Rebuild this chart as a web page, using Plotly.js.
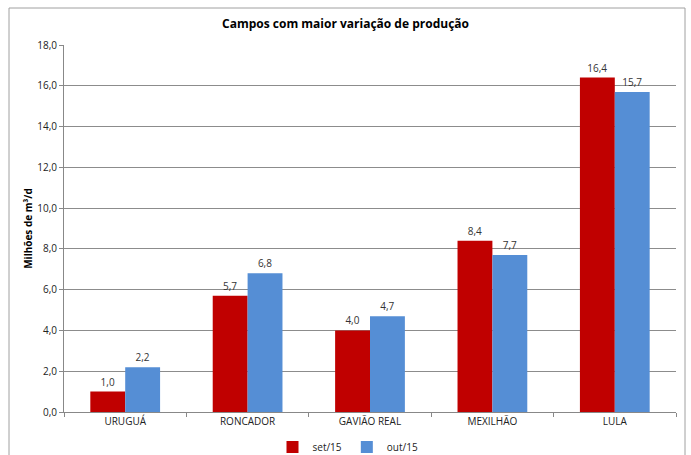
<!DOCTYPE html>
<html><head><meta charset="utf-8">
<script src="https://cdn.plot.ly/plotly-3.0.1.min.js"></script>
<style>html,body{margin:0;padding:0;background:#fff}#c{width:691px;height:455px}</style>
</head><body><div id="c"></div>
<script>
const categories = ["URUGUÁ", "RONCADOR", "GAVIÃO REAL", "MEXILHÃO", "LULA"];
const set15 = [1.0, 5.7, 4.0, 8.4, 16.4];
const out15 = [2.2, 6.8, 4.7, 7.7, 15.7];
const yTicks = [0, 2, 4, 6, 8, 10, 12, 14, 16, 18];

const FONT = '"Liberation Sans Narrow", "Open Sans", "Noto Sans", sans-serif';
const L = 64, R = 676, T = 45, B = 412, W = 691, H = 455;
const pw = R - L, ph = B - T;

function bar(name, vals, color) {
  return {
    type: 'bar', name: name, x: categories, y: vals,
    marker: {color: color},
    text: vals.map(v => v.toFixed(1).replace('.', ',')),
    textposition: 'outside', cliponaxis: false,
    textfont: {family: FONT, size: 10, color: '#333'},
    hoverinfo: 'none'
  };
}

const data = [bar('set/15', set15, '#C00000'), bar('out/15', out15, '#558ED5')];

const layout = {
  width: W, height: H,
  margin: {l: L, r: W - R, t: T, b: H - B, pad: 0},
  paper_bgcolor: '#fff', plot_bgcolor: '#fff',
  separators: ',.',
  barmode: 'group', bargap: 0.43, bargroupgap: 0,
  title: {text: '<b>Campos com maior variação de produção</b>', font: {family: FONT, size: 12, color: '#000'},
          x: 0.5, xanchor: 'center', y: 1 - 24 / H, yanchor: 'middle'},
  xaxis: {
    type: 'category', showgrid: false, showline: true, linecolor: '#888', linewidth: 1,
    ticks: 'outside', tickson: 'boundaries', ticklen: 4, tickcolor: '#888',
    tickfont: {family: FONT, size: 10, color: '#222'}, automargin: false
  },
  yaxis: {
    range: [0, 18], tickvals: yTicks, ticktext: yTicks.map(v => v.toFixed(1).replace('.', ',')),
    showgrid: true, gridcolor: '#8c8c8c', gridwidth: 1,
    showline: true, linecolor: '#888', ticks: 'outside', ticklen: 4, tickcolor: '#888',
    tickfont: {family: FONT, size: 10, color: '#222'}, zeroline: false,
    title: {text: '<b>Milhões de m³/d</b>', font: {family: FONT, size: 10, color: '#000'}, standoff: 2},
    automargin: false
  },
  showlegend: true,
  legend: {orientation: 'h', xref: 'paper', yref: 'container', x: (348 - L) / pw, xanchor: 'center',
           y: 1 - 447 / H, yanchor: 'middle',
           font: {family: FONT, size: 10, color: '#222'}, itemwidth: 30, traceorder: 'normal'},
  shapes: [{
    type: 'rect', xref: 'paper', yref: 'paper',
    x0: (9 - L) / pw, x1: (685 - L) / pw, y0: (B - 460) / ph, y1: (B - 8) / ph,
    line: {color: '#a0a0a0', width: 1}, fillcolor: 'rgba(0,0,0,0)', layer: 'below'
  }]
};

Plotly.newPlot('c', data, layout, {displayModeBar: false, staticPlot: true});
</script></body></html>
